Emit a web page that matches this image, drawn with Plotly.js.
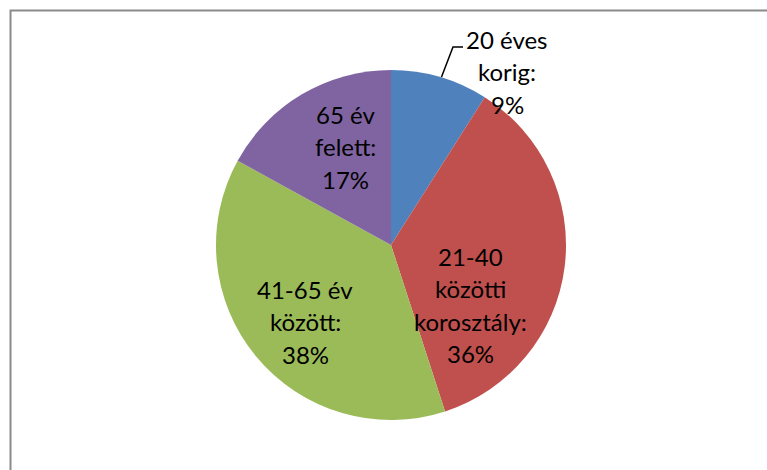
<!DOCTYPE html>
<html>
<head>
<meta charset="utf-8">
<script src="https://cdn.plot.ly/plotly-3.0.1.min.js"></script>
<style>html,body{margin:0;padding:0;background:#fff;}#chart{width:767px;height:470px;}</style>
</head>
<body>
<div id="chart"></div>
<script>
// Data
const categories = ["20 éves korig", "21-40 közötti korosztály", "41-65 év között", "65 év felett"];
const labelLines = [["20 éves", "korig:"], ["21-40", "közötti", "korosztály:"], ["41-65 év", "között:"], ["65 év", "felett:"]];
const values = [9, 36, 38, 17];
const colors = ["#4F81BD", "#C0504D", "#9BBB59", "#8064A2"];

const W = 767, H = 470;
// label block placement (pixel centre x, first-line centre y)
const labelPos = [[507, 39.5], [470, 256.5], [305, 289.5], [345, 114.5]];
const lineStep = 32.3;
const fontFam = "Lato, 'Open Sans', sans-serif";
const fontSize = 24;

const annotations = [];
categories.forEach((c, i) => {
  const lines = labelLines[i].concat([values[i] + "%"]);
  lines.forEach((t, k) => {
    annotations.push({
      xref: "paper", yref: "paper",
      x: labelPos[i][0] / W,
      y: 1 - (labelPos[i][1] + k * lineStep) / H,
      xanchor: "center", yanchor: "middle",
      text: t, showarrow: false,
      font: {family: fontFam, size: fontSize, color: "#000"}
    });
  });
});

const trace = {
  type: "pie",
  labels: categories,
  values: values,
  sort: false,
  direction: "clockwise",
  rotation: 0,
  textinfo: "none",
  hoverinfo: "none",
  marker: {colors: colors, line: {width: 0}},
  domain: {x: [216 / W, 566 / W], y: [1 - 420 / H, 1 - 70 / H]},
  showlegend: false
};

const layout = {
  width: W, height: H,
  margin: {l: 0, r: 0, t: 0, b: 0},
  paper_bgcolor: "#fff",
  showlegend: false,
  annotations: annotations,
  shapes: [
    {type: "rect", xref: "paper", yref: "paper",
     x0: 10.5 / W, x1: 1.05, y0: -0.05, y1: 1 - 10.5 / H,
     line: {color: "#8a8a8a", width: 2}, fillcolor: "rgba(0,0,0,0)"},
    {type: "path", xref: "paper", yref: "paper",
     path: "M " + (441.5 / W) + "," + (1 - 77 / H) + " L " + (453 / W) + "," + (1 - 47 / H) + " L " + (463 / W) + "," + (1 - 47 / H),
     line: {color: "#000", width: 1.5}}
  ]
};

Plotly.newPlot("chart", [trace], layout, {displayModeBar: false, staticPlot: true});
</script>
</body>
</html>
